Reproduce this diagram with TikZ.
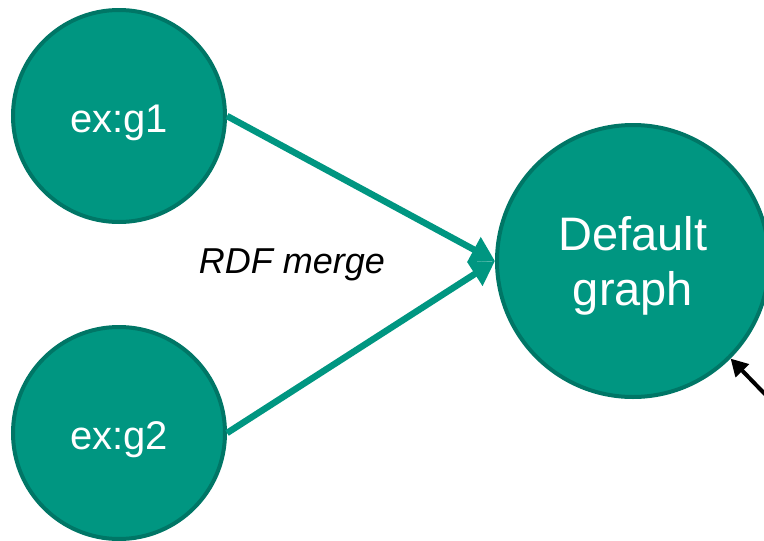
\documentclass[tikz,border=0pt]{standalone}
\usepackage{fontspec}
\setmainfont{Liberation Sans}
\usetikzlibrary{arrows.meta}
\definecolor{tealfill}{RGB}{0,150,129}
\definecolor{tealedge}{RGB}{0,118,102}
\tikzset{
  graphnode/.style={circle, fill=tealfill, draw=tealedge, line width=4pt, inner sep=0pt, text=white},
  mergearrow/.style={draw=tealfill, line width=6.5pt, -{Triangle[length=24pt,width=27pt]}},
  blackarrow/.style={draw=black, line width=4pt, -{Triangle[length=17pt,width=18pt]}}
}
\begin{document}
\begin{tikzpicture}[x=1pt,y=-1pt]
\useasboundingbox (0,0) rectangle (764,541);
\node[graphnode, minimum size=212pt, font=\fontsize{40}{48}\selectfont] (g1) at (119,116) {\raisebox{-7pt}[\height][\depth]{ex:g1}};
\node[graphnode, minimum size=212pt, font=\fontsize{40}{48}\selectfont] (g2) at (119,433) {\raisebox{-7pt}[\height][\depth]{ex:g2}};
\node[graphnode, minimum size=272pt, font=\fontsize{47}{56}\selectfont] (dg) at (633,261) {\raisebox{-6pt}[\height][\depth]{\begin{tabular}{@{}c@{}}Default\\[-1pt]graph\end{tabular}}};
\draw[mergearrow] (g1.east) -- (dg.west);
\draw[mergearrow] (g2.east) -- (dg.west);
\node[font=\fontsize{36}{42}\selectfont\itshape] (lbl) at (292,265) {RDF merge};
\coordinate (bs) at (790,420);
\draw[blackarrow] (bs) -- (dg.-45);
\end{tikzpicture}
\end{document}
